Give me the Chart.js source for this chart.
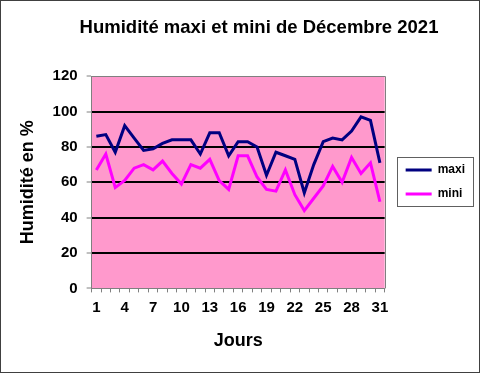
<!DOCTYPE html>
<html>
<head>
<meta charset="utf-8">
<script src="https://cdn.jsdelivr.net/npm/chart.js@4/dist/chart.umd.min.js"></script>
<style>
    body { margin: 0; background: #fff; }
    canvas { display: block; }
</style>
</head>
<body>
<canvas id="humChart" width="481" height="374"></canvas>
<script>
const jours = ['1','2','3','4','5','6','7','8','9','10','11','12','13','14','15','16',
    '17','18','19','20','21','22','23','24','25','26','27','28','29','30','31'];
const maxi = [86, 87, 77, 92, 85, 78, 79, 82, 84, 84, 84, 76, 88, 88, 75, 83,
    83, 80, 64, 77, 75, 73, 54, 70, 83, 85, 84, 89, 97, 95, 71];
const mini = [67, 76, 57, 61, 68, 70, 67, 72, 65, 59, 70, 68, 73, 61, 56, 75,
    75, 63, 56, 55, 67, 53, 44, 51, 58, 69, 60, 74, 65, 71, 49];
const y_ticks = [0, 20, 40, 60, 80, 100, 120];

const FONT = "'Liberation Sans', Arial, sans-serif";

// fond blanc, cadre, zone de tracé rose
const decor = {
    id: 'decor',
    afterLayout(chart) {
        // décale la légende et le titre comme dans Excel
        chart.legend.left += 9;
        chart.legend.right += 9;
        chart.titleBlock.left += 22;
        chart.titleBlock.right += 22;
    },
    beforeDraw(chart) {
        const ctx = chart.ctx;
        const a = chart.chartArea;
        ctx.save();
        ctx.fillStyle = '#ffffff';
        ctx.fillRect(0, 0, chart.width, chart.height);
        ctx.fillStyle = '#ff99cc';
        ctx.fillRect(a.left, a.top, a.right - a.left, a.bottom - a.top);
        ctx.strokeStyle = '#404040';
        ctx.lineWidth = 1;
        ctx.strokeRect(0.5, 0.5, chart.width - 2, chart.height - 2);
        ctx.restore();
    },
    beforeDatasetsDraw(chart) {
        const ctx = chart.ctx;
        const a = chart.chartArea;
        ctx.save();
        ctx.strokeStyle = '#808080';
        ctx.lineWidth = 1;
        ctx.beginPath();
        ctx.moveTo(a.left, Math.round(a.top) + 0.5);
        ctx.lineTo(Math.round(a.right) + 0.5, Math.round(a.top) + 0.5);
        ctx.lineTo(Math.round(a.right) + 0.5, a.bottom);
        ctx.stroke();
        ctx.restore();
    },
    afterDraw(chart) {
        const lg = chart.legend;
        const ctx = chart.ctx;
        const cy = (lg.top + lg.bottom) / 2;
        ctx.save();
        ctx.strokeStyle = '#606060';
        ctx.lineWidth = 1;
        ctx.strokeRect(Math.round(lg.left + 3) + 0.5, Math.round(cy - 25) + 0.5, 76, 49);
        ctx.restore();
    }
};

new Chart(document.getElementById('humChart').getContext('2d'), {
    type: 'line',
    data: {
        labels: jours,
        datasets: [{
            label: 'maxi',
            data: maxi,
            borderColor: '#000080',
            backgroundColor: '#000080',
            borderWidth: 3,
            pointRadius: 0,
            tension: 0
        }, {
            label: 'mini',
            data: mini,
            borderColor: '#ff00ff',
            backgroundColor: '#ff00ff',
            borderWidth: 3,
            pointRadius: 0,
            tension: 0
        }]
    },
    options: {
        responsive: false,
        animation: false,
        layout: {
            padding: { top: 8, left: 8, right: 15, bottom: 18 }
        },
        plugins: {
            title: {
                display: true,
                text: 'Humidité maxi et mini de Décembre 2021',
                color: '#000',
                font: { family: FONT, size: 18.5, weight: 'bold' },
                padding: { top: 9, bottom: 37 }
            },
            legend: {
                position: 'right',
                labels: {
                    color: '#000',
                    font: { family: FONT, size: 12, weight: 'bold' },
                    boxWidth: 26,
                    boxHeight: 3,
                    padding: 12,
                    generateLabels: (chart) => chart.data.datasets.map((ds, i) => ({
                        text: ds.label,
                        fillStyle: ds.borderColor,
                        strokeStyle: ds.borderColor,
                        lineWidth: 0,
                        datasetIndex: i
                    }))
                }
            },
            tooltip: { enabled: false }
        },
        scales: {
            x: {
                offset: true,
                grid: {
                    offset: true,
                    drawOnChartArea: false,
                    drawTicks: true,
                    tickLength: 4,
                    tickColor: '#808080',
                    tickWidth: 1
                },
                border: { color: '#808080', width: 1 },
                ticks: {
                    autoSkip: false,
                    maxRotation: 0,
                    padding: 6,
                    color: '#000',
                    font: { family: FONT, size: 15, weight: 'bold' },
                    callback: (val, i) => (i % 3 === 0 ? jours[i] : '')
                },
                title: {
                    display: true,
                    text: 'Jours',
                    color: '#000',
                    font: { family: FONT, size: 18, weight: 'bold' },
                    padding: { top: 8, bottom: 4 }
                }
            },
            y: {
                min: y_ticks[0],
                max: y_ticks[y_ticks.length - 1],
                afterBuildTicks: (scale) => {
                    scale.ticks = y_ticks.map(v => ({ value: v }));
                },
                grid: {
                    color: (c) => (c.tick && (c.tick.value === 0 || c.tick.value === 120) ? 'rgba(0,0,0,0)' : '#000000'),
                    lineWidth: 2,
                    tickLength: 5,
                    tickColor: '#808080',
                    tickWidth: 1
                },
                border: { color: '#808080', width: 1 },
                ticks: {
                    padding: 9,
                    color: '#000',
                    font: { family: FONT, size: 15, weight: 'bold' }
                },
                title: {
                    display: true,
                    text: 'Humidité en %',
                    color: '#000',
                    font: { family: FONT, size: 18, weight: 'bold' },
                    padding: { top: 9, bottom: 5 }
                }
            }
        }
    },
    plugins: [decor]
});
</script>
</body>
</html>
